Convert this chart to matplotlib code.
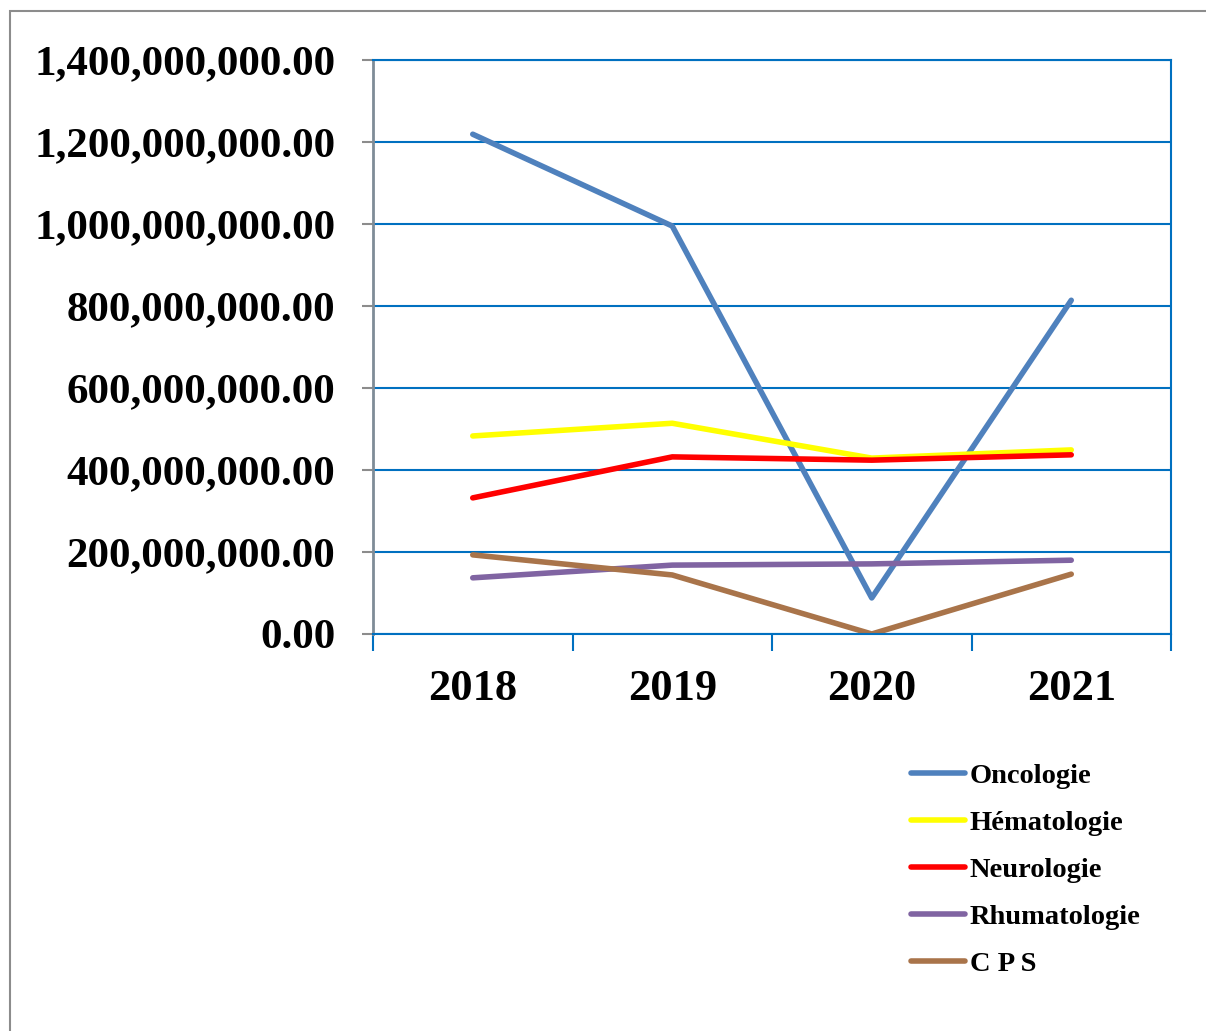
import matplotlib.pyplot as plt
import numpy as np
from matplotlib.patches import Rectangle
from matplotlib.ticker import FuncFormatter

years = ['2018', '2019', '2020', '2021']
oncologie = [1219e6, 995e6, 88e6, 814e6]
hematologie = [483e6, 514e6, 429e6, 449e6]
neurologie = [332e6, 432e6, 424e6, 437e6]
rhumatologie = [137e6, 168e6, 171e6, 180e6]
cps = [193e6, 144e6, 0.0, 146e6]

series = [
    ('Oncologie', oncologie, '#4F81BD'),
    ('Hématologie', hematologie, '#FFFF00'),
    ('Neurologie', neurologie, '#FF0000'),
    ('Rhumatologie', rhumatologie, '#8064A2'),
    ('C P S', cps, '#A9744A'),
]

plt.rcParams['font.family'] = ['Liberation Serif', 'DejaVu Serif']
plt.rcParams['font.weight'] = 'bold'

fig = plt.figure(figsize=(12.06, 10.31), dpi=100)
# outer border (clipped at right and bottom like the source)
fig.patches.append(Rectangle((10 / 1206, -0.1), 1.2, 1 - 11 / 1031 + 0.1,
                             transform=fig.transFigure, fill=False,
                             edgecolor='#8C8C8C', linewidth=1.5))

ax = fig.add_axes([373 / 1206, 1 - 634 / 1031, (1171 - 373) / 1206, (634 - 60) / 1031])
x = np.arange(len(years))
for name, vals, col in series:
    ax.plot(x, vals, color=col, linewidth=4, label=name, solid_capstyle='round')

ax.set_xlim(-0.5, 3.5)
ax.set_ylim(0, 1.4e9)
ax.set_yticks(np.arange(0, 1.41e9, 2e8))
ax.yaxis.set_major_formatter(FuncFormatter(lambda v, p: f'{v:,.2f}'))
ax.grid(axis='y', color='#0070C0', linewidth=1.5)
ax.set_axisbelow(True)

ax.set_xticks(x)
ax.set_xticklabels(years)
ax.set_xticks(np.arange(-0.5, 3.6, 1), minor=True)
ax.tick_params(axis='x', which='major', length=0, labelsize=32, pad=25)
ax.tick_params(axis='x', which='minor', length=12, width=1.5, color='#0070C0', direction='out')
ax.tick_params(axis='y', length=8, width=1.5, color='#8C8C8C', labelsize=31, pad=19)
for lab in ax.get_xticklabels() + ax.get_yticklabels():
    lab.set_fontweight('bold')

ax.spines['left'].set_color('#7F8C97')
ax.spines['left'].set_linewidth(2)
for s in ['bottom', 'right', 'top']:
    ax.spines[s].set_color('#0070C0')
    ax.spines[s].set_linewidth(1.5)

fig.legend(loc='upper left', bbox_to_anchor=(885 / 1206, 1 - 737 / 1031), frameon=False,
           prop={'size': 20.5, 'weight': 'bold'}, handlelength=1.9, handletextpad=0.18,
           labelspacing=0.74)

fig.savefig('out.png', dpi=100)
